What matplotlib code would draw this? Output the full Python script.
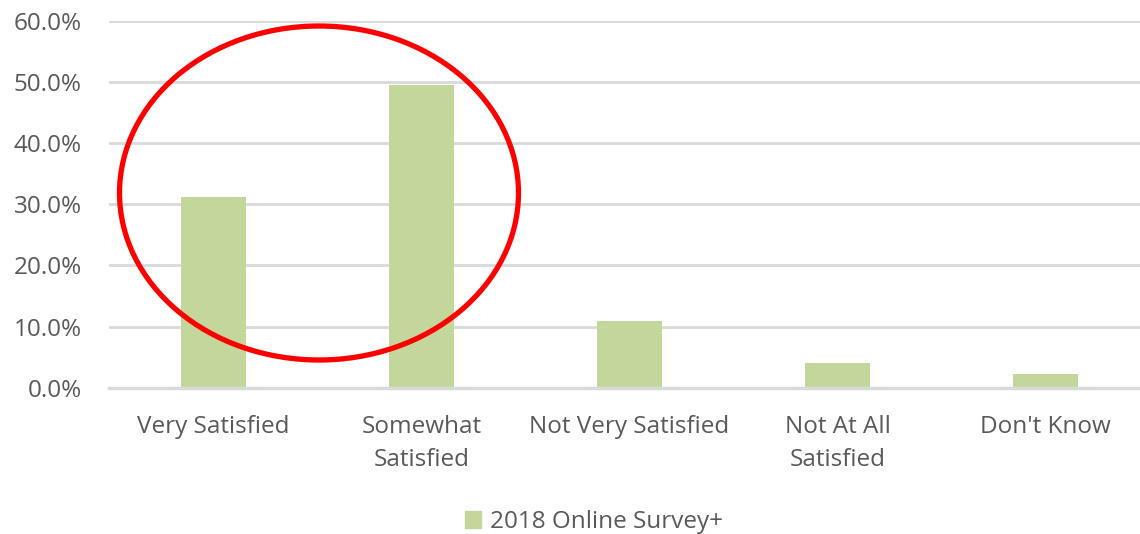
import matplotlib.pyplot as plt
from matplotlib.patches import Ellipse, Patch
from matplotlib.ticker import PercentFormatter

categories = ["Very Satisfied", "Somewhat\nSatisfied", "Not Very Satisfied",
              "Not At All\nSatisfied", "Don't Know"]
values = [31.2, 49.5, 10.9, 4.1, 2.2]
series_name = "2018 Online Survey+"

bar_color = "#c3d69b"
text_color = "#595959"
grid_color = "#d9d9d9"

plt.rcParams['font.family'] = ['Open Sans', 'DejaVu Sans']

fig = plt.figure(figsize=(11.4, 5.34), dpi=100)
W, H = 1140, 534
left_px, right_px = 109.5, 1149.5
bottom_px, top_px = 387.7, 21
# axes runs slightly past the right edge of the image, like the cropped original
ax = fig.add_axes([left_px / W, 1 - bottom_px / H,
                   (W - left_px) / W, (bottom_px - top_px) / H])
step = (right_px - left_px) / len(categories)
x = list(range(len(categories)))
ax.bar(x, values, width=65 / step, color=bar_color, zorder=3)
ax.set_xlim(-0.5, -0.5 + (W - left_px) / step)
ax.set_ylim(0, 60)
ax.set_yticks(range(0, 61, 10))
ax.yaxis.set_major_formatter(PercentFormatter(decimals=1))
ax.grid(axis='y', color=grid_color, linewidth=2, zorder=0)
for s in ['top', 'right', 'left']:
    ax.spines[s].set_visible(False)
ax.spines['bottom'].set_color(grid_color)
ax.spines['bottom'].set_linewidth(2.5)
ax.spines['bottom'].set_zorder(4)
ax.set_xticks(x)
ax.set_xticklabels(categories, linespacing=1.5)
ax.tick_params(axis='both', length=0, colors=text_color, labelsize=17.5)
ax.tick_params(axis='x', pad=19.5)
ax.tick_params(axis='y', pad=20)

# red ellipse highlighting the first two bars
ell = Ellipse((319 / W, 1 - 193 / H), 399 / W, 334 / H, transform=fig.transFigure,
              fill=False, edgecolor="#ff0000", linewidth=3.8, zorder=10)
fig.patches.append(ell)

fig.legend(handles=[Patch(color=bar_color, label=series_name)],
           loc='center', bbox_to_anchor=(594 / W, 1 - 522 / H), frameon=False,
           handlelength=0.65, handleheight=0.65, handletextpad=0.4,
           fontsize=17.5, labelcolor=text_color)

fig.savefig("out.png", dpi=100)
